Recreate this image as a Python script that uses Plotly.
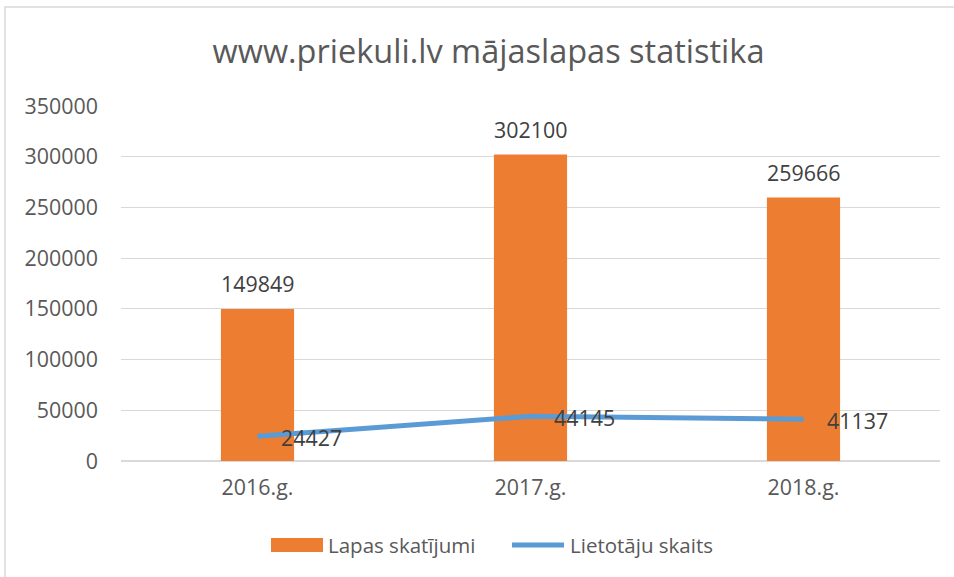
import plotly.graph_objects as go

# ---- data ----
categories = ["2016.g.", "2017.g.", "2018.g."]
page_views = [149849, 302100, 259666]
users = [24427, 44145, 41137]
y_ticks = [0, 50000, 100000, 150000, 200000, 250000, 300000, 350000]
series_names = ["Lapas skatījumi", "Lietotāju skaits"]
title_text = "www.priekuli.lv mājaslapas statistika"

# ---- style ----
W, H = 954, 577
ML, MR, MT, MB = 121, 14, 106, 116
PW, PH = W - ML - MR, H - MT - MB
FONT = "Open Sans"
ORANGE = "#ED7D31"
BLUE = "#5B9BD5"
GRID = "#D9D9D9"
TICK_COL = "#595959"
LABEL_COL = "#404040"
FS = 21.4


def px2paper_x(px):
    return (px - ML) / PW


def px2paper_y(py):
    return (H - MB - py) / PH


fig = go.Figure()

fig.add_trace(go.Bar(
    x=categories, y=page_views, name=series_names[0],
    marker=dict(color=ORANGE, line=dict(width=0)),
    width=0.268, showlegend=False, hoverinfo="x+y",
))
fig.add_trace(go.Scatter(
    x=categories, y=users, name=series_names[1], mode="lines",
    line=dict(color=BLUE, width=5), showlegend=False, hoverinfo="x+y",
))

annotations = []
# bar data labels
for c, v in zip(categories, page_views):
    annotations.append(dict(
        x=c, y=v, xref="x", yref="y", text=str(v), showarrow=False,
        xanchor="center", yanchor="middle", yshift=25.5,
        font=dict(family=FONT, size=FS, color=LABEL_COL),
    ))
# line data labels
for c, v in zip(categories, users):
    annotations.append(dict(
        x=c, y=v, xref="x", yref="y", text=str(v), showarrow=False,
        xanchor="left", yanchor="middle", xshift=21, yshift=-1.5,
        font=dict(family=FONT, size=FS, color=LABEL_COL),
    ))

# manual legend (Excel-style wide symbols)
leg_y = px2paper_y(545)
annotations.append(dict(
    x=px2paper_x(326), y=leg_y, xref="paper", yref="paper", text=series_names[0],
    showarrow=False, xanchor="left", yanchor="middle",
    font=dict(family=FONT, size=20.5, color=TICK_COL),
))
annotations.append(dict(
    x=px2paper_x(568), y=leg_y, xref="paper", yref="paper", text=series_names[1],
    showarrow=False, xanchor="left", yanchor="middle",
    font=dict(family=FONT, size=20.5, color=TICK_COL),
))

shapes = [
    # chart frame
    dict(type="rect", xref="paper", yref="paper",
         x0=px2paper_x(5), x1=px2paper_x(W + 20),
         y0=px2paper_y(H + 20), y1=px2paper_y(7),
         line=dict(color=GRID, width=1.5), fillcolor="rgba(0,0,0,0)", layer="below"),
    # legend symbols
    dict(type="rect", xref="paper", yref="paper",
         x0=px2paper_x(271), x1=px2paper_x(323),
         y0=px2paper_y(552), y1=px2paper_y(538),
         line=dict(width=0), fillcolor=ORANGE),
    dict(type="line", xref="paper", yref="paper",
         x0=px2paper_x(512), x1=px2paper_x(564), y0=leg_y, y1=leg_y,
         line=dict(color=BLUE, width=5)),
]

fig.update_layout(
    width=W, height=H,
    margin=dict(l=ML, r=MR, t=MT, b=MB, pad=0),
    paper_bgcolor="white", plot_bgcolor="white",
    title=dict(text=title_text, x=488.5 / W, xref="container", xanchor="center",
               y=1 - 52 / H, yref="container", yanchor="middle",
               font=dict(family=FONT, size=32.5, color=TICK_COL)),
    xaxis=dict(type="category", showgrid=False, showline=False, zeroline=False,
               ticks="", ticklabelstandoff=12,
               tickfont=dict(family=FONT, size=FS, color=TICK_COL)),
    yaxis=dict(range=[0, 350000], tickvals=y_ticks, ticktext=[str(t) for t in y_ticks],
               showgrid=True, gridcolor=GRID, gridwidth=1,
               zeroline=True, zerolinecolor=GRID, zerolinewidth=1.5,
               showline=False, ticks="", ticklabelstandoff=22,
               tickfont=dict(family=FONT, size=FS, color=TICK_COL)),
    annotations=annotations,
    shapes=shapes,
    showlegend=False,
)

fig.write_html(
    "out.html",
    config={"displayModeBar": False},
    post_script="document.body.style.margin='0';document.body.style.overflow='hidden';",
)
